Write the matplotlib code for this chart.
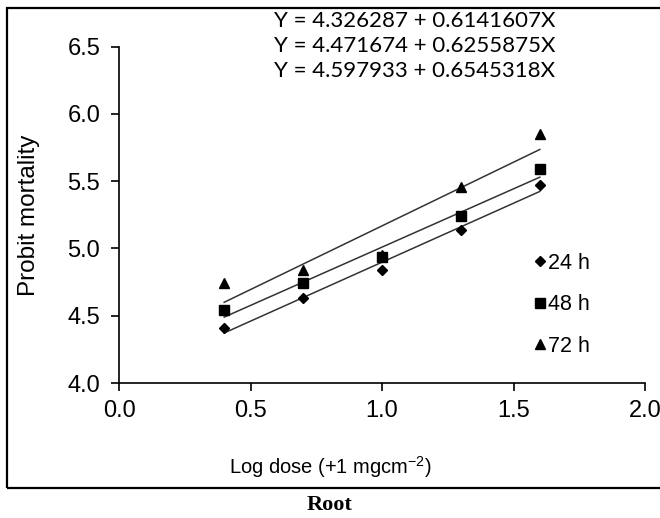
import numpy as np
import matplotlib
matplotlib.use("Agg")
import matplotlib.pyplot as plt
from matplotlib.patches import Rectangle

# log dose values and probit mortality
log_dose = [0.4, 0.7, 1.0, 1.3, 1.6]
probit_24h = [4.41, 4.63, 4.84, 5.14, 5.47]
probit_48h = [4.54, 4.74, 4.94, 5.24, 5.59]
probit_72h = [4.74, 4.84, 4.95, 5.46, 5.85]
labels = ["24 h", "48 h", "72 h"]
equations = [
    "Y = 4.326287 + 0.6141607X",
    "Y = 4.471674 + 0.6255875X",
    "Y = 4.597933 + 0.6545318X",
]

plt.rcParams['font.family'] = ['Liberation Sans', 'DejaVu Sans']
plt.rcParams['mathtext.fontset'] = 'custom'
plt.rcParams['mathtext.rm'] = 'Liberation Sans'

fig = plt.figure(figsize=(6.6, 5.18), dpi=100)
ax = fig.add_axes([119 / 660, 1 - 383 / 518, 526 / 660, 336.3 / 518])

# outer frame around the figure
fig.patches.append(Rectangle((7 / 660, 1 - 488 / 518), 1.0, (488 - 8) / 518,
                             transform=fig.transFigure, fill=False,
                             edgecolor='black', linewidth=1.6))

series = [probit_24h, probit_48h, probit_72h]
markers = ['D', 's', '^']
sizes = [5.5, 7, 6.5]
handles = []
for ys, m, ms, lab in zip(series, markers, sizes, labels):
    # linear trend line over the data range
    k, b = np.polyfit(log_dose, ys, 1)
    xx = np.array([log_dose[0], log_dose[-1]])
    ax.plot(xx, k * xx + b, color='#333333', linewidth=1.1)
    h, = ax.plot(log_dose, ys, linestyle='none', marker=m, markersize=ms,
                 color='black', label=lab)
    handles.append(h)

ax.set_xlim(0, 2.0)
ax.set_ylim(4.0, 6.5)
ax.set_xticks([0.0, 0.5, 1.0, 1.5, 2.0])
ax.set_yticks([4.0, 4.5, 5.0, 5.5, 6.0, 6.5])
ax.set_xticklabels(["0.0", "0.5", "1.0", "1.5", "2.0"])
ax.set_yticklabels(["4.0", "4.5", "5.0", "5.5", "6.0", "6.5"])
ax.spines['top'].set_visible(False)
ax.spines['right'].set_visible(False)
for s in ['left', 'bottom']:
    ax.spines[s].set_linewidth(1.2)
ax.tick_params(axis='both', direction='out', length=5.5, width=1.2,
               labelsize=17)
ax.tick_params(axis='y', pad=8)
ax.tick_params(axis='x', pad=6.5)

ax.set_ylabel("Probit mortality", fontsize=17.5, va='center')
ax.yaxis.set_label_coords((29 - 119) / 526, 0.5)

# x axis title sits low, close to the frame
fig.text(330 / 660, 1 - 474 / 518, "Log dose (+1 mgcm$^{-2}$)",
         ha='center', va='baseline', fontsize=14.5)

ax.legend(handles=handles, loc='upper left',
          bbox_to_anchor=(535 / 660, 1 - 253 / 518),
          bbox_transform=fig.transFigure, frameon=False, fontsize=15.5,
          handlelength=0.45, handletextpad=0.15, labelspacing=0.95,
          borderpad=0, borderaxespad=0)

for i, eq in enumerate(equations):
    fig.text(415 / 660, 1 - (21 + 25 * i) / 518, eq, ha='center',
             va='center', fontsize=16, family=['Lato', 'DejaVu Sans'])

fig.text(0.5, 1 - 505 / 518, "Root", ha='center', va='center',
         fontsize=16, fontweight='bold', family=['Liberation Serif'])

fig.savefig("out.png", dpi=100)
